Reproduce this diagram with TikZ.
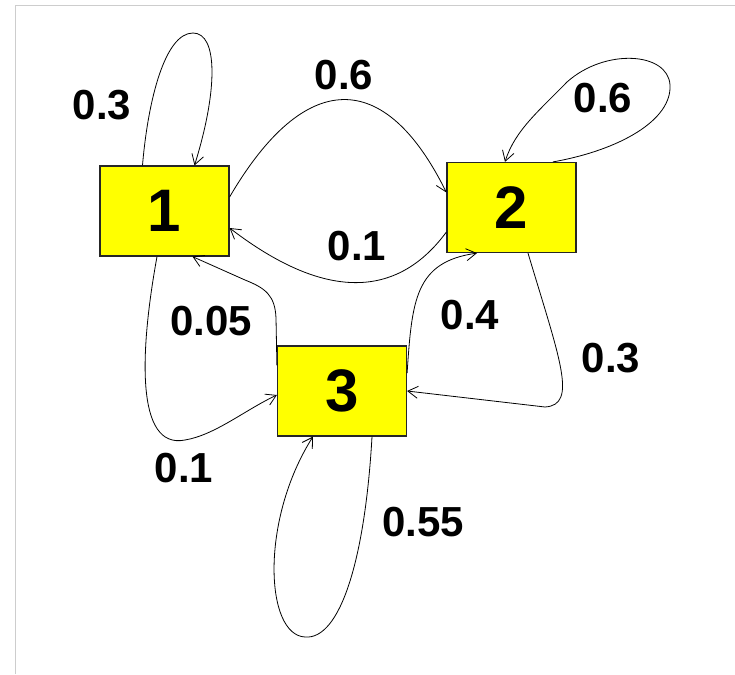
\documentclass[tikz,border=0pt]{standalone}
\usepackage{fontspec}
\setmainfont{Liberation Sans}
\usepackage{tikz}
\usetikzlibrary{arrows.meta, calc}
\definecolor{stateyellow}{RGB}{255,255,0}
\definecolor{framegray}{RGB}{205,205,205}
\tikzstyle{state} = [rectangle, minimum width=129pt, minimum height=90pt, inner sep=0pt, draw=black!85, line width=1.2pt, fill=stateyellow, font=\fontsize{60}{60}\selectfont\bfseries]
\tikzstyle{prob} = [inner sep=0pt, font=\fontsize{42}{42}\selectfont\bfseries]
\tikzstyle{arrow} = [line width=0.8pt, -{Straight Barb[length=10pt,width=12pt]}]

\begin{document}
\begin{tikzpicture}[x=1pt, y=-1pt]
\useasboundingbox (0,0) rectangle (735,674);
\draw [framegray, line width=1pt] (15,674) -- (15,6) -- (735,6);

% ===== STATES =====
\node (s1) [state] at (164.5,211) {1};
\node (s2) [state] at (511.5,207.5) {2};
\node (s3) [state] at (342,391) {3};

% ===== PROBABILITIES =====
\node (p11) [prob] at (102,105) {0.3};
\node (p12) [prob] at (344,75) {0.6};
\node (p22) [prob] at (603,98) {0.6};
\node (p21) [prob] at (357,246) {0.1};
\node (p31) [prob] at (211,321) {0.05};
\node (p13) [prob] at (184,468) {0.1};
\node (p32) [prob] at (470,315) {0.4};
\node (p23) [prob] at (611,358) {0.3};
\node (p33) [prob] at (423,522) {0.55};

% ===== ARROWS =====
% self loops
\draw [arrow] ([xshift=-22pt]s1.north) .. controls (148,100) and (165,33) .. (193,33) .. controls (218,33) and (218,90) .. ([xshift=30pt]s1.north);
\draw [arrow] ([xshift=41.5pt]s2.north) .. controls (620,150) and (672,120) .. (670,85) .. controls (668,52) and (605,48) .. (567,82) .. controls (540,110) and (515,130) .. ([xshift=-6.5pt]s2.north);
\draw [arrow] ([xshift=30pt]s3.south) .. controls (365,560) and (340,640) .. (305,637) .. controls (265,635) and (260,520) .. ([xshift=-29pt]s3.south);

% between 1 and 2
\draw [arrow] ([yshift=14pt]s1.east) .. controls (305,68) and (385,68) .. ([yshift=15pt]s2.west);
\draw [arrow] ([yshift=-24.5pt]s2.west) .. controls (400,295) and (330,305) .. ([yshift=-17pt]s1.east);

% between 1 and 3
\draw [arrow] ([yshift=-20pt]s3.north west) -- (276,318) .. controls (275,295) and (265,288) .. (245,280) -- ([xshift=28pt]s1.south);
\draw [arrow] ([xshift=-7.5pt]s1.south) .. controls (140,350) and (135,450) .. (185,440) .. controls (215,435) and (245,410) .. ([yshift=-4pt]s3.west);

% between 2 and 3
\draw [arrow] ([yshift=18pt]s3.east) .. controls (412,300) and (415,262) .. ([xshift=-34.5pt]s2.south);
\draw [arrow] ([xshift=16.5pt]s2.south) .. controls (560,360) and (578,405) .. (545,407) -- (s3.east);

\end{tikzpicture}
\end{document}
